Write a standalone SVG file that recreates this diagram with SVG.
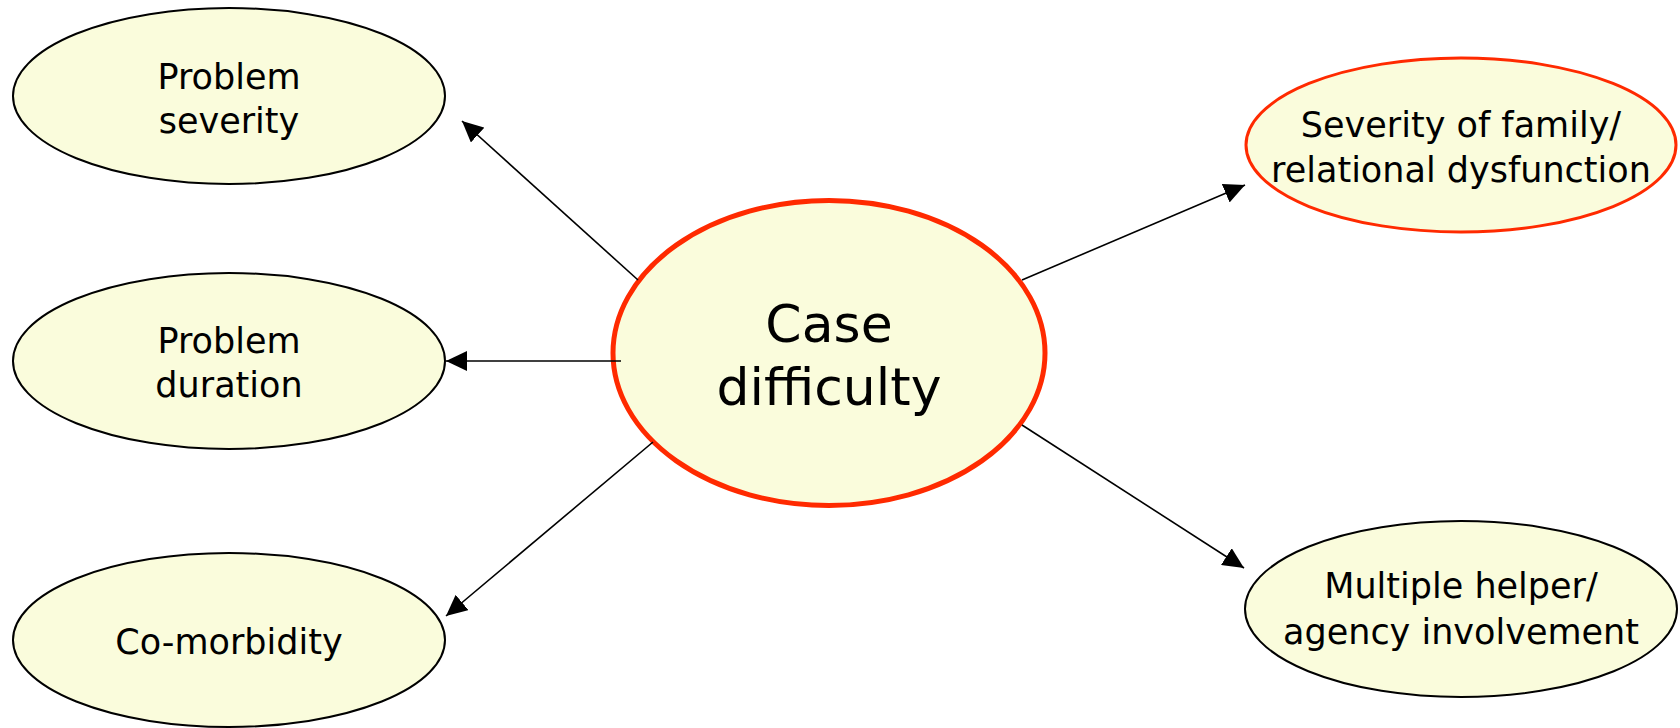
<svg xmlns="http://www.w3.org/2000/svg" width="1680" height="728" viewBox="0 0 1680 728">
  <style>
    .node { fill: #FAFCDC; stroke: #000; stroke-width: 2; }
    .hl { stroke: #FF2A00; stroke-width: 3; }
    .main { stroke: #FF2A00; stroke-width: 5; }
    .lbl { font-family: "DejaVu Sans", "Liberation Sans", sans-serif; font-size: 35px; fill: #000; text-anchor: middle; }
    .big { font-size: 52px; }
    .edge { stroke: #000; stroke-width: 1.6; fill: none; marker-end: url(#arrow); }
  </style>
  <defs>
    <marker id="arrow" markerUnits="userSpaceOnUse" markerWidth="22" markerHeight="20" refX="21" refY="10" orient="auto" viewBox="0 0 22 20">
      <path d="M0,0 L21,10 L0,20 z" fill="#000"/>
    </marker>
  </defs>
  <rect width="1680" height="728" fill="#fff"/>

  <g id="node-problem-severity">
    <ellipse class="node" cx="229" cy="96" rx="216" ry="88"/>
    <text class="lbl" x="229" y="89">Problem</text>
    <text class="lbl" x="229" y="133">severity</text>
  </g>
  <g id="node-problem-duration">
    <ellipse class="node" cx="229" cy="361" rx="216" ry="88"/>
    <text class="lbl" x="229" y="353">Problem</text>
    <text class="lbl" x="229" y="397">duration</text>
  </g>
  <g id="node-comorbidity">
    <ellipse class="node" cx="229" cy="640" rx="216" ry="87"/>
    <text class="lbl" x="229" y="654">Co-morbidity</text>
  </g>
  <g id="node-case-difficulty">
    <ellipse class="node main" cx="829" cy="353" rx="216" ry="152.5"/>
    <text class="lbl big" x="829" y="342">Case</text>
    <text class="lbl big" x="829" y="405">difficulty</text>
  </g>
  <g id="node-family-dysfunction">
    <ellipse class="node hl" cx="1461" cy="145" rx="215" ry="87"/>
    <text class="lbl" x="1461" y="137">Severity of family/</text>
    <text class="lbl" x="1461" y="182">relational dysfunction</text>
  </g>
  <g id="node-agency-involvement">
    <ellipse class="node" cx="1461" cy="609" rx="216" ry="88"/>
    <text class="lbl" x="1461" y="598">Multiple helper/</text>
    <text class="lbl" x="1461" y="644">agency involvement</text>
  </g>

  <g id="connectors">
    <path class="edge" d="M638,280 L462,121"/>
    <path class="edge" d="M621,361 L446,361"/>
    <path class="edge" d="M653,442 L446,616"/>
    <path class="edge" d="M1022,280 L1245,185"/>
    <path class="edge" d="M1022,425 L1244,568"/>
  </g>
</svg>
